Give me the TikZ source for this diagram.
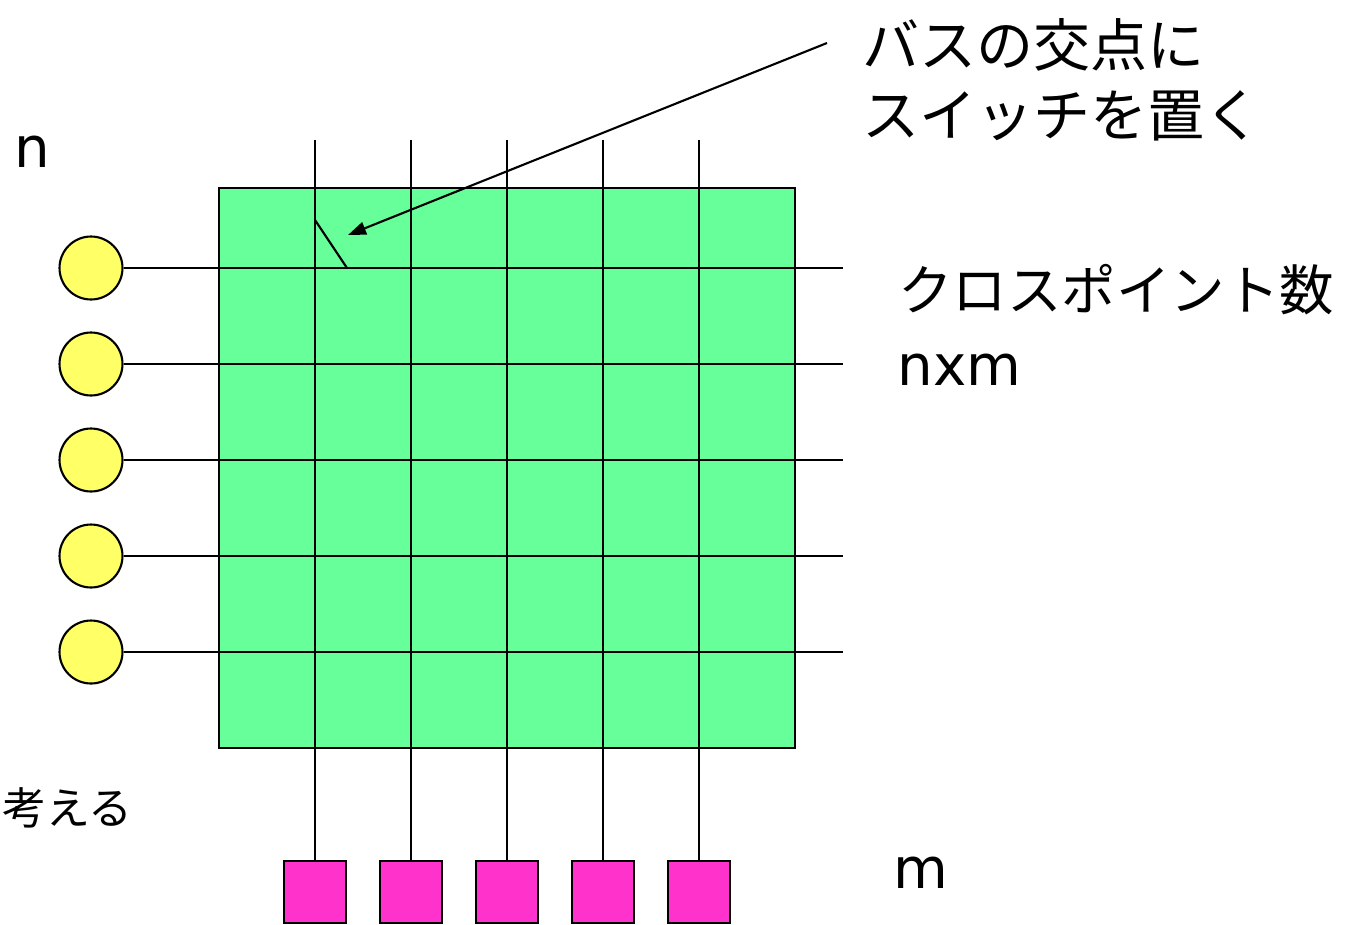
\documentclass[tikz,border=0pt]{standalone}
\usepackage{fontspec}
\setmainfont{Noto Sans CJK JP}
\newfontfamily\latinfont{DejaVu Sans}
\usepackage{xcolor}
\usetikzlibrary{arrows.meta}

\definecolor{matrixgreen}{HTML}{66FF99}
\definecolor{portyellow}{HTML}{FFFF66}
\definecolor{portpink}{HTML}{FF33CC}

\begin{document}
\begin{tikzpicture}[x=0.02cm, y=-0.02cm,
    bus/.style={line width=1.2pt},
    inport/.style={circle, draw, line width=1.2pt, fill=portyellow, minimum size=1.26cm, inner sep=0pt},
    outport/.style={rectangle, draw, line width=1.4pt, fill=portpink, minimum size=1.24cm, inner sep=0pt},
    jplabel/.style={anchor=west, inner sep=0pt, align=left},
    latinlabel/.style={anchor=west, inner sep=0pt, font=\latinfont\fontsize{32}{38}\selectfont}]
    \useasboundingbox (0,0) rectangle (1352,924);

    % switch matrix
    \draw[line width=1.4pt, fill=matrixgreen] (219,188) rectangle (795,748);

    % input ports and horizontal buses
    \foreach \i in {1,...,5} {
        \node[inport] (in\i) at (91,{268+96*(\i-1)}) {};
        \coordinate (hend\i) at (843,{268+96*(\i-1)});
        \draw[bus] (in\i.east) -- (hend\i);
    }

    % output ports and vertical buses
    \foreach \i in {1,...,5} {
        \node[outport] (out\i) at ({315+96*(\i-1)},892) {};
        \coordinate (vtop\i) at ({315+96*(\i-1)},140);
        \draw[bus] (vtop\i) -- (out\i.north);
    }

    % crosspoint switch
    \coordinate (swtop) at (315,220);
    \coordinate (swend) at (347,268);
    \draw[bus] (swtop) -- (swend);

    % labels
    \node[jplabel, font=\fontsize{32.5}{40}\selectfont] (swlabel) at (862,80) {バスの交点に\\スイッチを置く};
    \node[jplabel, font=\fontsize{31}{36}\selectfont] (cplabel) at (898,290) {クロスポイント数};
    \node[latinlabel] (nxmlabel) at (897,370) {nxm};
    \node[latinlabel] (nlabel) at (14,152) {n};
    \node[latinlabel] (mlabel) at (893,873) {m};
    \node[jplabel, font=\fontsize{25}{30}\selectfont] (thinklabel) at (2,808) {考える};

    % pointer to the switch
    \coordinate (arrowstart) at (827,43);
    \coordinate (arrowtip) at (348,235);
    \draw[line width=1.2pt, -{Triangle[length=0.36cm, width=0.26cm]}] (arrowstart) -- (arrowtip);
\end{tikzpicture}
\end{document}
